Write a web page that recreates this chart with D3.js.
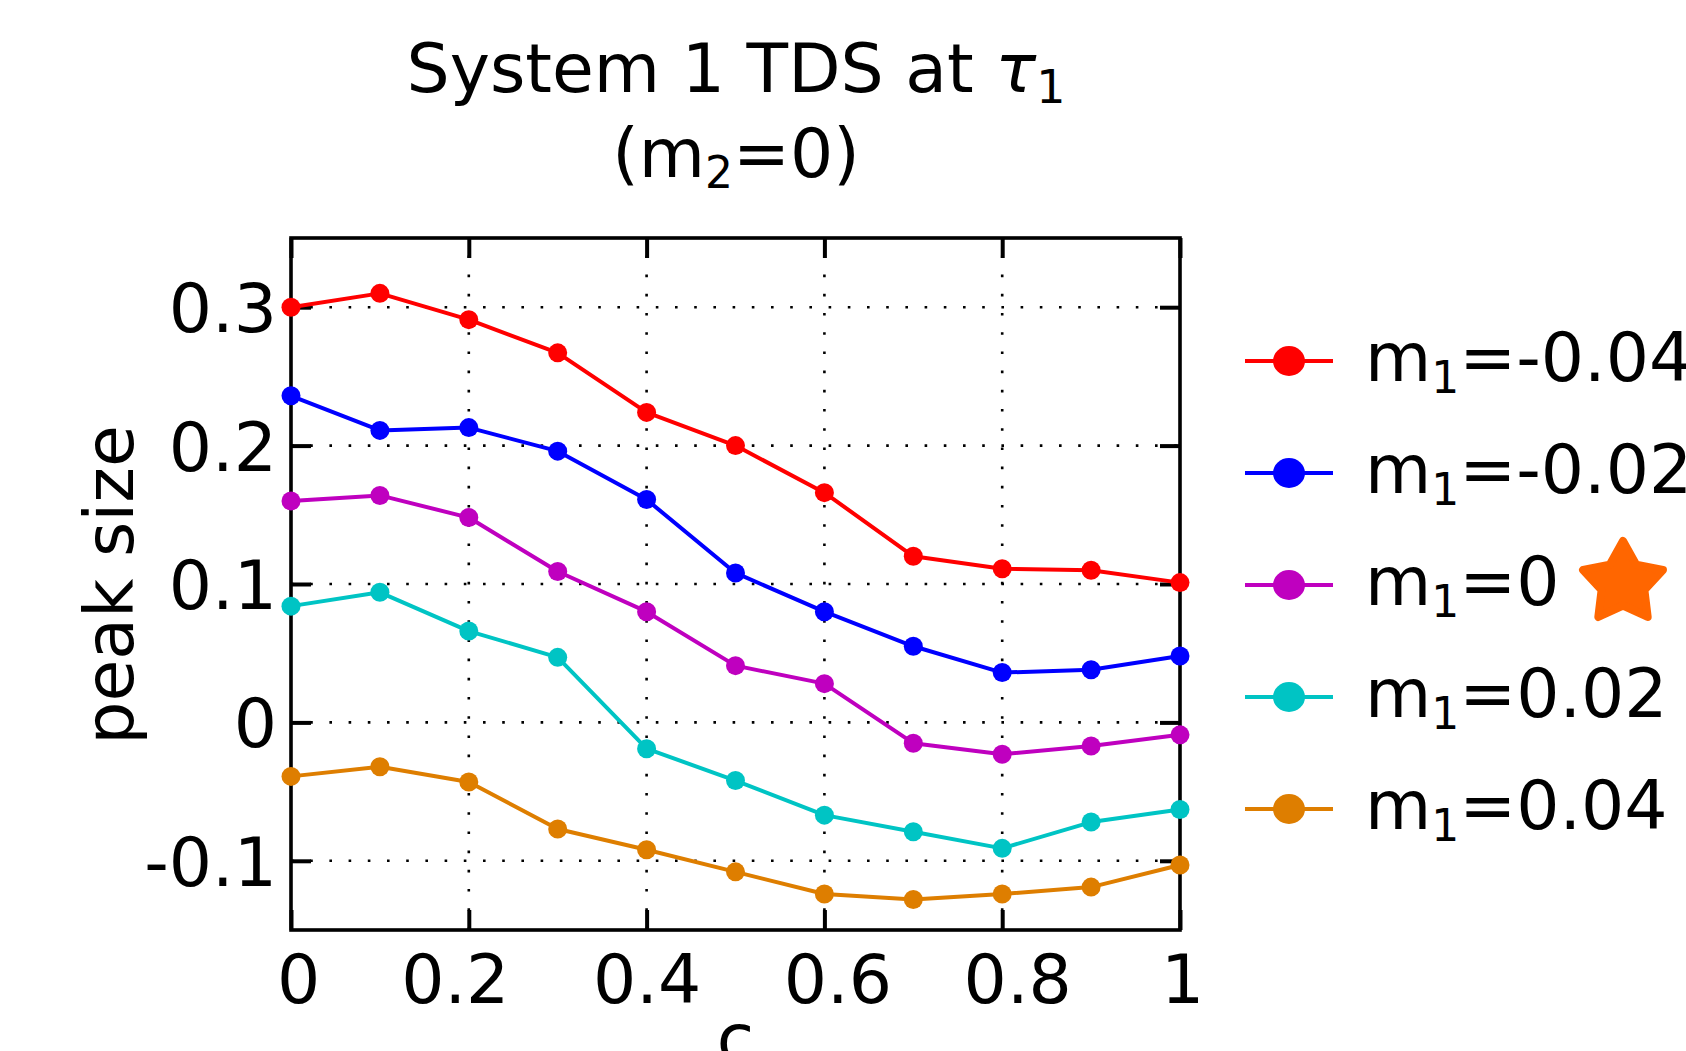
<!DOCTYPE html>
<html>
<head>
<meta charset="utf-8">
<script src="https://cdn.jsdelivr.net/npm/d3@7/dist/d3.min.js"></script>
<style>
  html, body { margin: 0; padding: 0; background: #fff; }
  svg { display: block; font-family: "DejaVu Sans", sans-serif; }
</style>
</head>
<body>
<svg id="chart" width="1686" height="1051"></svg>
<script>
// ---- data ----
const cValues = [0, 0.1, 0.2, 0.3, 0.4, 0.5, 0.6, 0.7, 0.8, 0.9, 1.0];
const seriesM1 = ["-0.04", "-0.02", "0", "0.02", "0.04"];
const valuesM1n04 = [0.300, 0.310, 0.291, 0.267, 0.224, 0.200, 0.166, 0.120, 0.111, 0.110, 0.101];
const valuesM1n02 = [0.236, 0.211, 0.213, 0.196, 0.161, 0.108, 0.080, 0.055, 0.036, 0.038, 0.048];
const valuesM1z   = [0.160, 0.164, 0.148, 0.109, 0.080, 0.041, 0.028, -0.015, -0.023, -0.017, -0.009];
const valuesM1p02 = [0.084, 0.094, 0.066, 0.047, -0.019, -0.042, -0.067, -0.079, -0.091, -0.072, -0.063];
const valuesM1p04 = [-0.039, -0.032, -0.043, -0.077, -0.092, -0.108, -0.124, -0.128, -0.124, -0.119, -0.103];
const seriesColors = ["#ff0000", "#0000ff", "#bf00bf", "#00c4c4", "#de7e00"];
const xTicks = [0, 0.2, 0.4, 0.6, 0.8, 1];
const xTickLabels = ["0", "0.2", "0.4", "0.6", "0.8", "1"];
const yTicks = [-0.1, 0, 0.1, 0.2, 0.3];
const yTickLabels = ["-0.1", "0", "0.1", "0.2", "0.3"];
const highlightedSeries = 2;

const allSeries = [valuesM1n04, valuesM1n02, valuesM1z, valuesM1p02, valuesM1p04];

// ---- layout / style ----
const svg = d3.select("#chart");
const L = 291, R = 1180, T = 238, B = 930;
const x = d3.scaleLinear().domain([0, 1]).range([L, R]);
const y = d3.scaleLinear().domain([-0.15, 0.35]).range([B, T]);
const FS = 68;
// horizontal nudges of x tick labels as rendered in the original
const xLabelNudge = [7, -14, 0, 13, 15, 2];

// grid (dotted)
const grid = svg.append("g").attr("stroke", "#000").attr("stroke-width", 2.6)
  .attr("stroke-dasharray", "2.6 16.6").attr("fill", "none");
xTicks.filter(v => v > 0 && v < 1).forEach(v => {
  grid.append("line").attr("x1", x(v)).attr("x2", x(v)).attr("y1", B).attr("y2", T);
});
yTicks.forEach(v => {
  grid.append("line").attr("x1", L).attr("x2", R).attr("y1", y(v)).attr("y2", y(v));
});

// axes with inward ticks on all four sides
const tickLen = 20;
const axB = svg.append("g").attr("transform", `translate(0,${B})`)
  .call(d3.axisBottom(x).tickValues(xTicks).tickSize(-tickLen).tickPadding(28)
    .tickFormat((d, i) => xTickLabels[i]));
const axT = svg.append("g").attr("transform", `translate(0,${T})`)
  .call(d3.axisTop(x).tickValues(xTicks).tickSize(-tickLen).tickFormat(""));
const axL = svg.append("g").attr("transform", `translate(${L},0)`)
  .call(d3.axisLeft(y).tickValues(yTicks).tickSize(-tickLen).tickPadding(14)
    .tickFormat((d, i) => yTickLabels[i]));
const axR = svg.append("g").attr("transform", `translate(${R},0)`)
  .call(d3.axisRight(y).tickValues(yTicks).tickSize(-tickLen).tickFormat(""));
[axB, axT, axL, axR].forEach(a => {
  a.select(".domain").remove();
  a.selectAll(".tick line").attr("stroke", "#000").attr("stroke-width", 4);
  a.selectAll("text").attr("font-size", FS).attr("font-family", "DejaVu Sans").attr("fill", "#000");
});
axB.selectAll("text").attr("dy", null).attr("y", 73).attr("x", (d, i) => xLabelNudge[i]);
axL.selectAll("text").attr("dy", "0.36em").attr("x", -14);

// frame
svg.append("rect").attr("x", L).attr("y", T).attr("width", R - L).attr("height", B - T)
  .attr("fill", "none").attr("stroke", "#000").attr("stroke-width", 3.6);

// series
const line = d3.line().x((d, i) => x(cValues[i])).y(d => y(d));
allSeries.forEach((vals, s) => {
  const g = svg.append("g");
  g.append("path").datum(vals).attr("d", line).attr("fill", "none")
    .attr("stroke", seriesColors[s]).attr("stroke-width", 4).attr("stroke-linejoin", "round");
  g.selectAll("circle").data(vals).join("circle")
    .attr("cx", (d, i) => x(cValues[i])).attr("cy", d => y(d)).attr("r", 9.5)
    .attr("fill", seriesColors[s]);
});

// title
const title = svg.append("text").attr("x", 736).attr("y", 92).attr("text-anchor", "middle")
  .attr("font-size", 68).attr("fill", "#000");
title.append("tspan").text("System 1 TDS at ");
title.append("tspan").attr("font-style", "italic").text("τ");
title.append("tspan").attr("font-size", 46).attr("dy", 11).text("1");
const title2 = svg.append("text").attr("x", 736).attr("y", 177).attr("text-anchor", "middle")
  .attr("font-size", 68).attr("fill", "#000");
title2.append("tspan").text("(m");
title2.append("tspan").attr("font-size", 44).attr("dy", 11).text("2");
title2.append("tspan").attr("dy", -11).text("=0)");

// axis labels
svg.append("text").attr("transform", `translate(133,585) rotate(-90)`)
  .attr("text-anchor", "middle").attr("font-size", FS).attr("fill", "#000").text("peak size");
svg.append("text").attr("x", (L + R) / 2).attr("y", 1062).attr("text-anchor", "middle")
  .attr("font-size", FS).attr("fill", "#000").text("c");

// legend
const legY = d3.scaleLinear().domain([0, 4]).range([361, 809]);
seriesM1.forEach((m, s) => {
  const g = svg.append("g").attr("transform", `translate(0,${legY(s)})`);
  g.append("line").attr("x1", 1245).attr("x2", 1333).attr("y1", 0).attr("y2", 0)
    .attr("stroke", seriesColors[s]).attr("stroke-width", 4);
  g.append("ellipse").attr("cx", 1289).attr("cy", 0).attr("rx", 16).attr("ry", 15)
    .attr("fill", seriesColors[s]);
  const t = g.append("text").attr("x", 1365).attr("y", 20).attr("font-size", FS).attr("fill", "#000");
  t.append("tspan").text("m");
  t.append("tspan").attr("font-size", 44).attr("dy", 12).text("1");
  t.append("tspan").attr("dy", -12).text("=" + m);
});

// star next to highlighted series
const starCx = 1623, starCy = 0, Ro = 42, Ri = 22.5;
const starPts = d3.range(10).map(k => {
  const a = -Math.PI / 2 + k * Math.PI / 5;
  const r = k % 2 === 0 ? Ro : Ri;
  return [starCx + r * Math.cos(a), starCy + r * Math.sin(a)];
});
svg.append("path").attr("d", "M" + starPts.map(p => p.join(",")).join("L") + "Z")
  .attr("fill", "#ff6600").attr("stroke", "#ff6600").attr("stroke-width", 8)
  .attr("stroke-linejoin", "round")
  .attr("transform", `translate(0,${legY(highlightedSeries) - 2})`);
</script>
</body>
</html>
